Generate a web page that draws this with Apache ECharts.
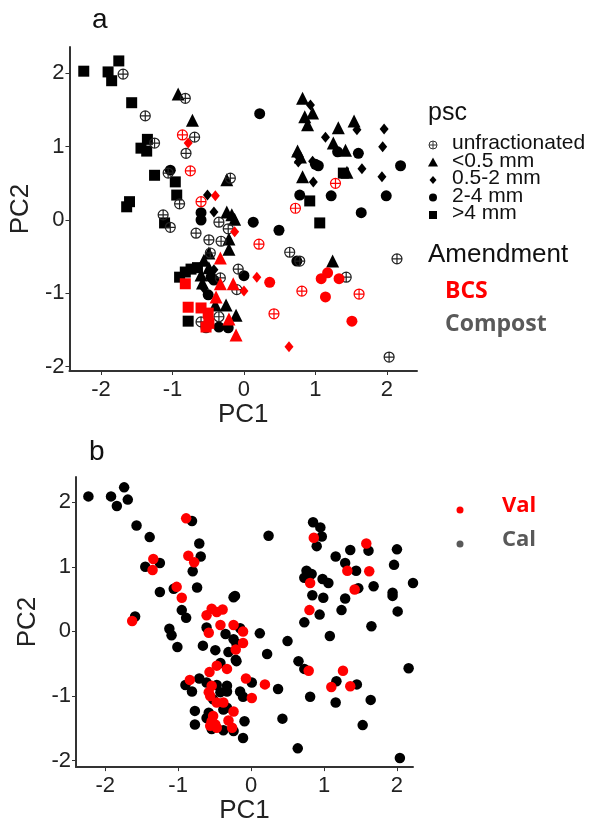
<!DOCTYPE html>
<html>
<head>
<meta charset="utf-8">
<script src="https://cdn.jsdelivr.net/npm/echarts@6/dist/echarts.min.js"></script>
<style>
  html, body { margin: 0; padding: 0; background: #fff; }
  #chart { width: 591px; height: 825px; }
</style>
</head>
<body>
<div id="chart"></div>
<script>
// panel a: PCA scores split by particle size class and amendment
const ticks = [-2, -1, 0, 1, 2];

const unfracCompost = [
  [-1.69, 1.99], [-0.82, 1.66], [-1.38, 1.42], [-0.69, 1.13], [-0.81, 0.91], [-1.06, 0.64],
  [-0.19, 0.57], [-1.25, 1.05], [-0.90, 0.22], [-1.13, 0.07], [-0.35, -0.03], [-0.22, -0.12],
  [-1.03, -0.10], [-0.67, -0.18], [-0.49, -0.27], [-0.32, -0.29], [-0.47, -0.45], [-0.08, -0.67],
  [-0.33, -0.79], [-0.10, -0.95], [-0.35, -1.32], [-0.60, -1.39], [-0.53, -1.47], [0.64, -0.44],
  [0.78, -0.56], [1.43, -0.78], [2.14, -0.53], [2.03, -1.87]
];
const unfracBCS = [
  [-0.86, 1.16], [-0.75, 0.67], [-0.60, 0.25], [0.72, 0.16], [1.28, 0.50], [0.21, -0.33],
  [0.81, -0.97], [1.61, -1.01], [0.42, -1.28]
];
const fineCompost = [
  [-0.92, 1.72], [-0.72, 1.36], [-0.24, 0.55], [-0.24, 0.11], [-0.17, 0.07], [-0.13, 0.01],
  [-0.21, -0.26], [-0.21, -0.40], [-0.49, -0.45], [-0.56, -0.55], [-0.58, -0.86], [-0.60, -0.75],
  [-0.25, -1.16], [-0.11, -1.30], [-0.40, -1.16], [-0.49, -0.65], [0.82, 1.66], [0.96, 1.46],
  [0.85, 1.41], [0.89, 1.30], [1.54, 1.35], [1.32, 1.26], [1.25, 1.05], [1.42, 0.95],
  [0.75, 0.94], [0.79, 0.86], [0.82, 0.59], [1.44, 0.65], [1.24, -0.56]
];
const fineBCS = [
  [-0.33, -0.52], [-0.33, -0.87], [-0.15, -0.87], [-0.39, -1.05], [-0.21, -1.35], [-0.11, -1.57]
];
const midCompost = [
  [-0.51, 0.34], [-0.42, 0.11], [0.93, 1.57], [1.58, 1.23], [1.96, 1.24], [1.14, 1.13],
  [1.94, 1.00], [0.74, 0.89], [0.76, 0.79], [0.96, 0.80], [1.65, 0.70], [1.93, 0.59],
  [0.97, 0.52], [-0.56, -0.93], [-0.42, -0.68]
];
const midBCS = [
  [-0.78, 1.05], [-0.40, 0.33], [-0.13, -0.16], [0.18, -0.78], [0.00, -0.97], [0.63, -1.73]
];
const coarseCompost = [
  [-1.03, 0.68], [-0.60, 0.10], [-0.60, 0.00], [0.22, 1.45], [1.31, 0.93], [1.60, 0.91],
  [1.00, 0.76], [1.04, 0.74], [2.19, 0.74], [0.78, 0.34], [1.22, 0.33], [1.99, 0.33],
  [1.64, 0.10], [0.13, -0.03], [0.49, -0.14], [0.74, -0.56], [0.00, -0.76], [-0.46, -0.78],
  [-0.42, -0.82], [-0.50, -1.02], [-0.35, -1.46], [-0.22, -1.47]
];
const coarseBCS = [
  [0.36, -0.85], [1.08, -0.80], [1.17, -0.72], [1.33, -0.80], [1.14, -1.05], [1.51, -1.38]
];
const largeCompost = [
  [-2.24, 2.03], [-1.75, 2.17], [-1.90, 2.02], [-1.85, 1.90], [-1.57, 1.60], [-1.35, 1.10],
  [-1.44, 0.98], [-1.36, 0.94], [-1.25, 0.61], [-0.96, 0.52], [-0.94, 0.34], [-1.60, 0.25],
  [-1.64, 0.18], [-1.11, -0.04], [-0.90, -0.78], [-0.82, -0.71], [-0.74, -0.67], [-0.65, -0.65],
  [-0.78, -1.38], [0.92, 0.26], [1.06, -0.04], [1.39, 0.64]
];
const largeBCS = [
  [-0.82, -0.87], [-0.78, -1.19], [-0.60, -1.20], [-0.50, -1.27], [-0.49, -1.41], [-0.53, -1.46]
];

// panel b: validation / calibration split
const valPoints = [
  [-0.89, 1.75], [-0.86, 1.17], [-0.78, 1.07], [-1.34, 1.12], [-1.35, 0.95], [-1.02, 0.69],
  [-0.95, 0.52], [-0.54, 0.35], [-0.39, 0.34], [-0.61, 0.25], [-0.47, 0.30], [-1.63, 0.16],
  [-0.58, -0.02], [-0.42, 0.10], [-0.24, 0.10], [-0.11, 0.00], [-0.11, -0.18], [-0.21, -0.28],
  [-0.47, -0.53], [-0.57, -0.63], [-0.33, -0.58], [-0.84, -0.75], [-0.54, -0.84], [-0.58, -0.94],
  [-0.56, -1.00], [-0.47, -1.10], [-0.38, -1.10], [-0.24, -1.24], [-0.52, -1.31], [-0.54, -1.39],
  [-0.56, -1.46], [-0.49, -1.44], [-0.47, -1.49], [-0.31, -1.38], [-0.26, -1.49], [-0.07, -0.73],
  [0.19, -0.82], [0.01, -1.03], [0.79, -0.61], [1.10, -0.86], [1.26, -0.61], [1.36, -0.85],
  [0.86, 1.45], [1.58, 1.36], [1.32, 0.94], [1.62, 0.93], [0.81, 0.75], [1.42, 0.65], [0.80, 0.33]
];
const calPoints = [
  [-2.23, 2.09], [-1.92, 2.09], [-1.74, 2.23], [-1.69, 2.04], [-1.84, 1.94], [-1.57, 1.64],
  [-0.81, 1.71], [-1.39, 1.46], [-0.71, 1.36], [-0.69, 1.16], [-0.80, 0.93], [-1.45, 1.00],
  [-1.25, 1.06], [-1.25, 0.61], [-1.06, 0.66], [-0.74, 0.68], [-0.22, 0.55], [-0.24, 0.53],
  [-1.59, 0.23], [-0.95, 0.33], [-0.89, 0.21], [-1.12, 0.04], [-1.09, -0.06], [-1.01, -0.24],
  [-0.61, 0.06], [-0.35, -0.04], [-0.66, -0.22], [-0.49, -0.29], [-0.31, -0.32], [-0.24, -0.12],
  [-0.21, -0.44], [-0.42, -0.49], [-0.90, -0.83], [-0.81, -0.93], [-0.71, -0.73], [-0.61, -0.79],
  [-0.47, -0.83], [-0.33, -0.84], [-0.42, -0.94], [-0.33, -0.93], [-0.52, -1.05], [-0.38, -1.21],
  [-0.77, -1.23], [-0.77, -1.44], [-0.58, -1.26], [-0.61, -1.34], [-0.54, -1.51], [-0.38, -1.53],
  [-0.24, -1.54], [-0.15, 0.05], [-0.20, -0.19], [-0.20, -0.46], [0.12, -0.03], [0.50, -0.15],
  [0.22, -0.35], [0.01, -0.79], [0.37, -0.89], [-0.15, -0.93], [-0.11, -1.01], [0.65, -0.46],
  [0.73, -0.58], [0.81, -1.01], [1.17, -0.77], [1.45, -0.82], [1.16, -1.10], [1.64, -1.06],
  [2.16, -0.57], [0.43, -1.35], [1.53, -1.45], [0.64, -1.81], [2.04, -1.96], [-0.11, -1.65],
  [-0.09, -1.39], [-0.33, -1.18], [0.24, 1.48], [0.85, 1.69], [0.95, 1.61], [0.97, 1.47],
  [0.90, 1.32], [1.16, 1.16], [1.36, 1.26], [1.61, 1.25], [2.00, 1.27], [1.29, 1.06],
  [1.44, 0.94], [1.96, 1.03], [2.22, 0.75], [0.76, 0.94], [0.73, 0.83], [0.83, 0.89],
  [0.98, 0.81], [1.06, 0.75], [1.47, 0.67], [1.68, 0.70], [0.84, 0.56], [0.99, 0.52],
  [1.29, 0.51], [1.94, 0.60], [1.94, 0.55], [1.24, 0.33], [0.94, 0.26], [0.73, 0.14],
  [2.01, 0.31], [1.65, 0.08], [1.08, -0.07]
];

const RED = '#ff0000';
const BLACK = '#000000';
const GREY = '#595959';
const FONT = 'Liberation Sans, Arial, sans-serif';
const BOLD = 'bold 23px Open Sans, sans-serif';
const crossCircle = 'path://M10,0A10,10,0,1,1,-10,0A10,10,0,1,1,10,0ZM-10,0L10,0M0,-10L0,10';

function xAxisFor(gridIndex, min, max, gap) {
  return {
    type: 'value', gridIndex: gridIndex, min: min, max: max,
    name: 'PC1', nameLocation: 'middle', nameGap: gap,
    nameTextStyle: { fontFamily: FONT, fontSize: 26, color: '#222', verticalAlign: 'top' },
    axisLine: { onZero: false, lineStyle: { color: '#333', width: 2 } },
    axisTick: { show: true, length: 4, customValues: ticks, lineStyle: { color: '#333' } },
    axisLabel: { customValues: ticks, fontFamily: FONT, fontSize: 22, color: '#222', margin: 8 },
    splitLine: { show: false }
  };
}
function yAxisFor(gridIndex, min, max, gap) {
  return {
    type: 'value', gridIndex: gridIndex, min: min, max: max,
    name: 'PC2', nameLocation: 'middle', nameGap: gap, nameRotate: 90,
    nameTextStyle: { fontFamily: FONT, fontSize: 26, color: '#222' },
    axisLine: { show: true, onZero: false, lineStyle: { color: '#333', width: 2 } },
    axisTick: { show: true, length: 4, customValues: ticks, lineStyle: { color: '#333' } },
    axisLabel: { customValues: ticks, fontFamily: FONT, fontSize: 22, color: '#222', margin: 5 },
    splitLine: { show: false }
  };
}

function scatterA(name, data, symbol, size, color, hollow) {
  return {
    type: 'scatter', name: name, xAxisIndex: 0, yAxisIndex: 0,
    data: data, symbol: symbol, symbolSize: size,
    itemStyle: hollow
      ? { color: 'none', borderColor: color, borderWidth: 1.2, opacity: 1 }
      : { color: color, opacity: 1 },
    silent: true
  };
}

function legendSymbol(kind, x, y) {
  const st = { fill: '#000' };
  if (kind === 'cross') {
    return { type: 'group', children: [
      { type: 'circle', shape: { cx: x, cy: y, r: 4 }, style: { fill: 'none', stroke: '#333', lineWidth: 1 } },
      { type: 'line', shape: { x1: x - 4, y1: y, x2: x + 4, y2: y }, style: { stroke: '#333', lineWidth: 1 } },
      { type: 'line', shape: { x1: x, y1: y - 4, x2: x, y2: y + 4 }, style: { stroke: '#333', lineWidth: 1 } }
    ] };
  }
  if (kind === 'tri') return { type: 'polygon', shape: { points: [[x, y - 5], [x + 5, y + 4], [x - 5, y + 4]] }, style: st };
  if (kind === 'dia') return { type: 'polygon', shape: { points: [[x, y - 4], [x + 3.5, y], [x, y + 4], [x - 3.5, y]] }, style: st };
  if (kind === 'dot') return { type: 'circle', shape: { cx: x, cy: y, r: 4 }, style: st };
  return { type: 'rect', shape: { x: x - 4, y: y - 4, width: 8, height: 8 }, style: st };
}

const pscLabels = ['unfractionated', '<0.5 mm', '0.5-2 mm', '2-4 mm', '>4 mm'];
const pscKinds = ['cross', 'tri', 'dia', 'dot', 'sq'];

const graphics = [
  { type: 'text', left: 92, top: 6, style: { text: 'a', font: '28px ' + FONT, fill: '#111' } },
  { type: 'text', left: 89, top: 438, style: { text: 'b', font: '28px ' + FONT, fill: '#111' } },
  { type: 'text', left: 428, top: 101, style: { text: 'psc', font: '25px ' + FONT, fill: '#111' } },
  { type: 'text', left: 428, top: 242, style: { text: 'Amendment', font: '26px ' + FONT, fill: '#111' } },
  { type: 'text', left: 445, top: 280, style: { text: 'BCS', font: BOLD, fill: RED } },
  { type: 'text', left: 445, top: 313, style: { text: 'Compost', font: BOLD, fill: GREY } },
  { type: 'circle', shape: { cx: 460, cy: 510, r: 3.5 }, style: { fill: RED } },
  { type: 'circle', shape: { cx: 460, cy: 544, r: 3.5 }, style: { fill: GREY } },
  { type: 'text', left: 502, top: 495, style: { text: 'Val', font: 'bold 22px Open Sans, sans-serif', fill: RED } },
  { type: 'text', left: 502, top: 529, style: { text: 'Cal', font: 'bold 22px Open Sans, sans-serif', fill: GREY } }
];
pscLabels.forEach(function (lab, i) {
  const y = 145 + i * 17.5;
  graphics.push(legendSymbol(pscKinds[i], 433, y));
  graphics.push({ type: 'text', left: 452, top: y - 12, style: { text: lab, font: '21px ' + FONT, fill: '#111' } });
});

const chart = echarts.init(document.getElementById('chart'));
chart.setOption({
  backgroundColor: '#ffffff',
  animation: false,
  grid: [
    { left: 67, top: 47, width: 350, height: 324 },
    { left: 76, top: 477, width: 337, height: 301 }
  ],
  xAxis: [xAxisFor(0, -2.44, 2.42, 25), xAxisFor(1, -2.40, 2.22, 29)],
  yAxis: [yAxisFor(0, -2.06, 2.36, 27), yAxisFor(1, -2.10, 2.39, 31)],
  graphic: graphics,
  series: [
    scatterA('>4 mm Compost', largeCompost, 'rect', 11, BLACK, false),
    scatterA('2-4 mm Compost', coarseCompost, 'circle', 11, BLACK, false),
    scatterA('0.5-2 mm Compost', midCompost, 'diamond', [9, 11], BLACK, false),
    scatterA('<0.5 mm Compost', fineCompost, 'triangle', 13, BLACK, false),
    scatterA('unfractionated Compost', unfracCompost, crossCircle, 10, '#222', true),
    scatterA('>4 mm BCS', largeBCS, 'rect', 11, RED, false),
    scatterA('2-4 mm BCS', coarseBCS, 'circle', 11, RED, false),
    scatterA('0.5-2 mm BCS', midBCS, 'diamond', [9, 11], RED, false),
    scatterA('<0.5 mm BCS', fineBCS, 'triangle', 13, RED, false),
    scatterA('unfractionated BCS', unfracBCS, crossCircle, 10, RED, true),
    {
      type: 'scatter', name: 'Cal', xAxisIndex: 1, yAxisIndex: 1, data: calPoints,
      symbol: 'circle', symbolSize: 10.5, itemStyle: { color: BLACK, opacity: 1 }, silent: true
    },
    {
      type: 'scatter', name: 'Val', xAxisIndex: 1, yAxisIndex: 1, data: valPoints,
      symbol: 'circle', symbolSize: 10.5, itemStyle: { color: RED, opacity: 1 }, silent: true
    }
  ]
});
</script>
</body>
</html>
